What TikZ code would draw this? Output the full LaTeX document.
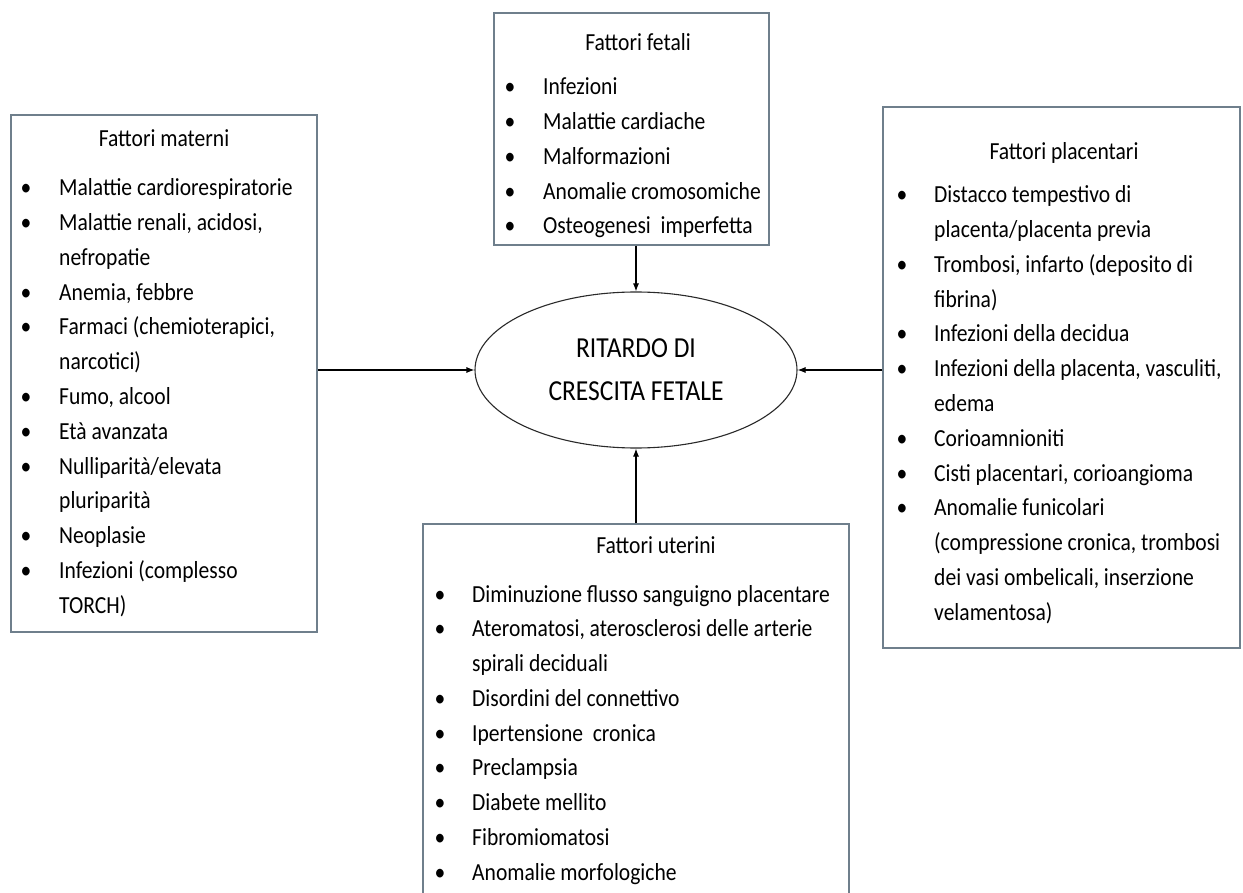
\documentclass[tikz,border=0pt]{standalone}
\usepackage{fontspec}
\setmainfont{Carlito}[FakeStretch=0.88]
\usetikzlibrary{arrows.meta,shapes.geometric}
\definecolor{boxline}{HTML}{6F7F8C}
\definecolor{ellline}{HTML}{2A2A2A}
\newcommand\drawlist[5]{%
  \foreach \b/\t [count=\i] in {#5}{%
    \node[txt] (#1\i) at (#3,{#4+(\i-1)*34.75}) {\t};
    \ifnum\b=1 \node[bul] (#1b\i) at (#2,{#4+(\i-1)*34.75}) {\textbullet};\fi
  }%
}
\begin{document}
\begin{tikzpicture}[x=1pt,y=-1pt,
  box/.style={draw=boxline,line width=1.2pt,fill=white,inner sep=0pt},
  txt/.style={anchor=base west,inner sep=0pt,font=\fontsize{24.5}{28}\selectfont},
  ttl/.style={anchor=base,inner sep=0pt,font=\fontsize{24.5}{28}\selectfont},
  bul/.style={anchor=base,inner sep=0pt,font=\fontsize{24.5}{28}\selectfont},
  arr/.style={draw=black,line width=1.1pt,-{Latex[length=8pt,width=6pt]}}]
\useasboundingbox (0,0) rectangle (1243,893);
\clip (0,0) rectangle (1243,893);
\fill[white] (0,0) rectangle (1243,893);
% boxes
\node[box,minimum width=306,minimum height=517] (mat) at (164,373.5) {};
\node[box,minimum width=275,minimum height=232] (fe) at (631.5,129) {};
\node[box,minimum width=357,minimum height=541] (pl) at (1061.5,377.5) {};
\node[box,minimum width=426,minimum height=376] (ut) at (636,712) {};
% central ellipse
\node[ellipse,draw=ellline,line width=1.1pt,minimum width=322,minimum height=156,inner sep=0pt,
  align=center,font=\fontsize{29}{43}\selectfont] (ell) at (636,370) {RITARDO DI\\CRESCITA FETALE};
% titles
\node[ttl] (matt) at (164,147) {Fattori materni};
\node[ttl] (fet) at (638,51) {Fattori fetali};
\node[ttl] (plt) at (1064,160) {Fattori placentari};
\node[ttl] (utt) at (656,553) {Fattori uterini};
% lists
\drawlist{m}{26}{59}{196}{1/{Malattie cardiorespiratorie},1/{Malattie renali, acidosi,},0/{nefropatie},1/{Anemia, febbre},1/{Farmaci (chemioterapici,},0/{narcotici)},1/{Fumo, alcool},1/{Età avanzata},1/{Nulliparità/elevata},0/{pluriparità},1/{Neoplasie},1/{Infezioni (complesso},0/{TORCH)}}
\drawlist{f}{510}{543}{95}{1/{Infezioni},1/{Malattie cardiache},1/{Malformazioni},1/{Anomalie cromosomiche},1/{Osteogenesi\ \ imperfetta}}
\drawlist{p}{902}{934}{203}{1/{Distacco tempestivo di},0/{placenta/placenta previa},1/{Trombosi, infarto (deposito di},0/{fibrina)},1/{Infezioni della decidua},1/{Infezioni della placenta, vasculiti,},0/{edema},1/{Corioamnioniti},1/{Cisti placentari, corioangioma},1/{Anomalie funicolari},0/{(compressione cronica, trombosi},0/{dei vasi ombelicali, inserzione},0/{velamentosa)}}
\drawlist{u}{440}{472}{602}{1/{Diminuzione flusso sanguigno placentare},1/{Ateromatosi, aterosclerosi delle arterie},0/{spirali deciduali},1/{Disordini del connettivo},1/{Ipertensione\ \ cronica},1/{Preclampsia},1/{Diabete mellito},1/{Fibromiomatosi},1/{Anomalie morfologiche}}
% connectors
\draw[arr] (mat.east |- ell.west) -- (ell.west);
\draw[arr] (pl.west |- ell.east) -- (ell.east);
\draw[arr] (fe.south -| ell.north) -- (ell.north);
\draw[arr] (ut.north -| ell.south) -- (ell.south);
\end{tikzpicture}
\end{document}
